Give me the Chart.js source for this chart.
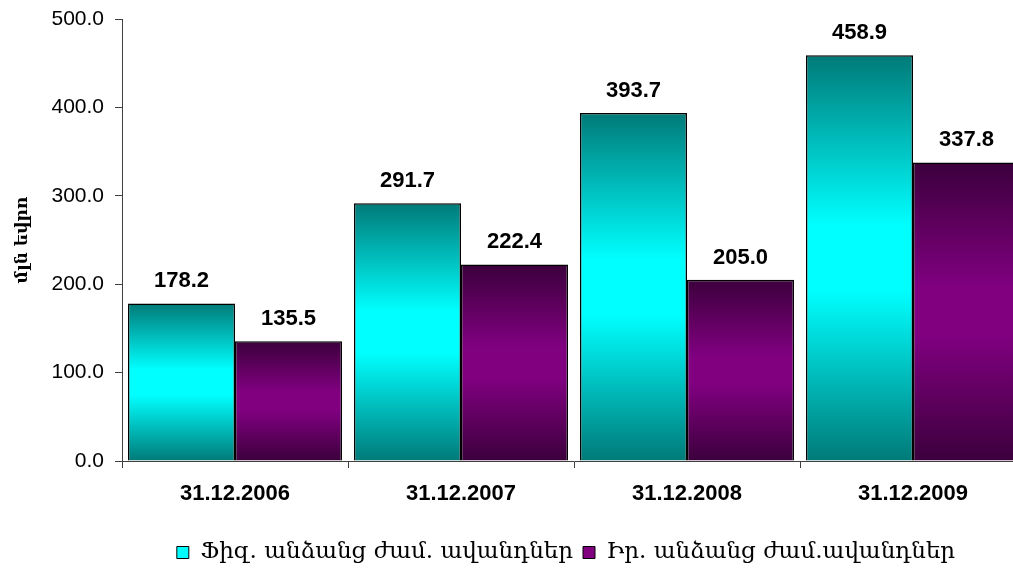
<!DOCTYPE html>
<html>
<head>
<meta charset="utf-8">
<script src="https://cdn.jsdelivr.net/npm/chart.js@4.4.0/dist/chart.umd.min.js"></script>
<style>
  html, body { margin: 0; padding: 0; overflow: hidden; background: #fff; }
  #wrap { position: absolute; left: 0; top: 0; width: 1132px; height: 576px; }
</style>
</head>
<body>
<div id="wrap"><canvas id="depositChart"></canvas></div>
<script>
// values
const categories = ["31.12.2006", "31.12.2007", "31.12.2008", "31.12.2009"];
const physicalDeposits = [178.2, 291.7, 393.7, 458.9];
const legalDeposits = [135.5, 222.4, 205.0, 337.8];
const seriesNames = ["Ֆիզ. անձանց ժամ. ավանդներ", "Իր. անձանց ժամ.ավանդներ"];
const yTitle = "մլն եվրո";

Chart.defaults.font.family = "'Liberation Sans', Arial, sans-serif";
Chart.defaults.color = "#000";

// each bar gets its own dark-light-dark vertical gradient
function barGradient(dark, light) {
  return function (context) {
    const chart = context.chart;
    if (!chart.chartArea || context.type !== "data") {
      return light;
    }
    const y = chart.scales.y;
    const top = y.getPixelForValue(context.raw);
    const bottom = y.getPixelForValue(0);
    const g = chart.ctx.createLinearGradient(0, top, 0, bottom);
    g.addColorStop(0, dark);
    g.addColorStop(0.42, light);
    g.addColorStop(0.58, light);
    g.addColorStop(1, dark);
    return g;
  };
}

const valueLabels = {
  id: "valueLabels",
  afterDatasetsDraw(chart) {
    const ctx = chart.ctx;
    ctx.save();
    ctx.font = "bold 22px 'Liberation Sans', Arial, sans-serif";
    ctx.fillStyle = "#000";
    ctx.textAlign = "center";
    ctx.textBaseline = "alphabetic";
    chart.data.datasets.forEach((ds, i) => {
      chart.getDatasetMeta(i).data.forEach((bar, j) => {
        ctx.fillText(ds.data[j].toFixed(1), bar.x, bar.y - 16);
      });
    });
    ctx.restore();
  },
};

const ctx = document.getElementById("depositChart").getContext("2d");

new Chart(ctx, {
  type: "bar",
  data: {
    labels: categories,
    datasets: [
      {
        label: seriesNames[0],
        data: physicalDeposits,
        backgroundColor: barGradient("#007a78", "#00ffff"),
        borderColor: "#000",
        borderWidth: 1.5,
        categoryPercentage: 0.947,
        barPercentage: 1.0,
      },
      {
        label: seriesNames[1],
        data: legalDeposits,
        backgroundColor: barGradient("#3c003c", "#800080"),
        borderColor: "#000",
        borderWidth: 1.5,
        categoryPercentage: 0.947,
        barPercentage: 1.0,
      },
    ],
  },
  options: {
    responsive: true,
    maintainAspectRatio: false,
    animation: false,
    layout: {
      padding: { left: 0, right: 0, top: 19, bottom: 2 },
    },
    scales: {
      x: {
        offset: true,
        grid: {
          display: true,
          offset: true,
          drawOnChartArea: false,
          tickLength: 7,
          color: "#404040",
        },
        border: { display: true, color: "#404040", width: 1 },
        ticks: {
          padding: 13,
          font: { size: 22, weight: "bold" },
        },
        afterFit(scale) {
          scale.height = 70;
        },
      },
      y: {
        min: 0,
        max: 500,
        grid: {
          display: true,
          drawOnChartArea: false,
          tickLength: 7,
          color: "#404040",
        },
        border: { display: true, color: "#404040", width: 1 },
        ticks: {
          stepSize: 100,
          padding: 11,
          font: { size: 21 },
          callback: (v) => Number(v).toFixed(1),
        },
        title: {
          display: true,
          text: yTitle,
          font: { family: "'DejaVu Serif', serif", size: 17, weight: "bold" },
          padding: { top: 12, bottom: 0 },
        },
        afterFit(scale) {
          scale.width = 122;
          scale.paddingTop = 0;
          scale.paddingBottom = 0;
        },
      },
      // empty box on the right: the original chart runs past the window edge
      spacer: {
        position: "right",
        axis: "y",
        display: true,
        grid: { display: false },
        border: { display: false },
        ticks: { display: false },
        afterFit(scale) {
          scale.width = 106;
          scale.paddingTop = 0;
          scale.paddingBottom = 0;
        },
      },
    },
    plugins: {
      tooltip: { enabled: false },
      legend: {
        position: "bottom",
        labels: {
          boxWidth: 12,
          boxHeight: 12,
          padding: 10,
          color: "#000",
          font: { family: "'DejaVu Serif', serif", size: 23 },
          generateLabels() {
            return [
              { text: seriesNames[0], fillStyle: "#00ffff", strokeStyle: "#000", lineWidth: 1, datasetIndex: 0 },
              { text: seriesNames[1], fillStyle: "#800080", strokeStyle: "#000", lineWidth: 1, datasetIndex: 1 },
            ];
          },
        },
      },
    },
  },
  plugins: [valueLabels],
});
</script>
</body>
</html>
